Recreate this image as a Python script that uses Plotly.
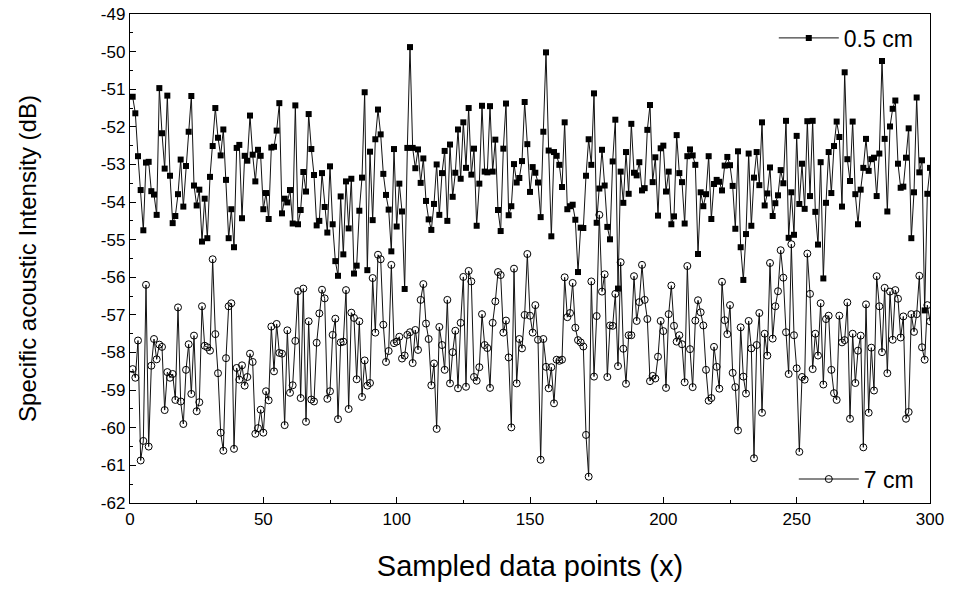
import plotly.graph_objects as go

x_points = list(range(1, 301))

series_05cm = [
-51.20,-51.64,-52.78,-53.68,-54.75,-52.95,-52.93,-53.71,-53.80,-54.34,
-50.97,-52.17,-53.11,-51.17,-53.30,-54.56,-54.37,-53.79,-52.87,-54.12,
-53.04,-52.13,-51.18,-53.56,-54.09,-53.67,-55.05,-53.91,-54.96,-53.33,
-52.51,-51.50,-52.29,-52.76,-52.07,-53.41,-54.96,-54.19,-55.20,-52.56,
-52.48,-54.43,-52.77,-52.90,-51.70,-52.74,-53.45,-52.61,-52.77,-54.19,
-53.76,-54.45,-52.55,-52.53,-52.10,-51.37,-54.30,-53.91,-54.01,-53.68,
-54.57,-51.43,-54.59,-54.21,-53.20,-53.72,-51.66,-52.59,-53.28,-54.62,
-54.50,-53.23,-54.13,-54.81,-53.05,-54.59,-55.57,-55.96,-53.85,-55.39,
-53.45,-54.70,-53.38,-55.90,-55.69,-54.23,-53.35,-51.08,-55.81,-52.66,
-54.48,-52.33,-51.54,-52.20,-53.25,-53.81,-54.20,-55.31,-52.59,-54.65,
-53.51,-54.25,-56.31,-52.56,-49.88,-52.56,-53.10,-52.60,-53.49,-52.84,
-53.97,-54.46,-54.74,-54.05,-53.00,-54.34,-53.23,-52.64,-54.50,-52.47,
-53.86,-53.22,-52.07,-53.38,-51.88,-53.09,-51.50,-53.27,-52.58,-54.63,
-53.51,-51.44,-53.19,-53.21,-51.45,-53.19,-52.34,-54.21,-54.77,-52.58,
-51.38,-54.35,-54.11,-52.99,-53.48,-53.36,-52.91,-51.34,-52.46,-53.73,
-53.07,-53.22,-53.48,-54.40,-52.13,-50.02,-52.63,-54.91,-52.67,-52.77,
-53.01,-53.60,-51.88,-54.19,-54.11,-54.07,-54.47,-55.86,-54.68,-54.69,
-53.30,-52.33,-53.01,-51.11,-54.55,-53.64,-52.61,-53.56,-54.66,-54.99,
-52.92,-51.81,-56.30,-53.19,-54.02,-52.67,-53.78,-51.92,-53.22,-53.29,
-52.94,-53.69,-53.63,-52.08,-51.42,-53.47,-52.81,-54.36,-52.57,-52.50,
-53.72,-53.19,-54.59,-54.38,-52.22,-53.23,-53.47,-54.57,-52.78,-52.60,
-52.76,-53.01,-55.38,-53.74,-54.11,-53.79,-52.78,-54.45,-53.52,-53.41,
-53.46,-53.69,-53.03,-52.80,-53.02,-53.57,-54.71,-52.65,-55.20,-56.07,
-54.85,-52.71,-54.63,-53.35,-52.67,-53.55,-51.88,-54.09,-53.77,-53.08,
-54.37,-54.03,-53.82,-53.15,-53.50,-51.84,-54.95,-53.74,-54.87,-52.24,
-54.05,-52.98,-54.18,-51.85,-53.84,-51.84,-54.26,-55.13,-52.94,-56.03,
-54.02,-52.67,-53.76,-52.51,-51.86,-52.27,-54.12,-50.55,-52.86,-53.44,
-51.86,-53.79,-54.59,-53.67,-53.09,-52.32,-53.17,-52.86,-52.82,-53.84,
-52.71,-50.25,-52.32,-54.25,-51.99,-51.52,-51.30,-52.98,-53.62,-53.59,
-52.82,-52.04,-54.96,-53.74,-51.22,-53.21,-52.89,-56.88,-53.78,-53.09,
]

series_7cm = [
-58.44,-58.67,-57.68,-60.87,-60.35,-56.20,-60.50,-58.35,-57.64,-58.18,
-57.79,-57.85,-59.53,-58.52,-58.67,-58.57,-59.26,-56.80,-59.30,-59.90,
-58.46,-57.78,-59.10,-57.55,-59.56,-59.32,-56.77,-57.82,-57.86,-57.95,
-55.52,-57.51,-58.55,-60.13,-60.61,-58.15,-56.77,-56.69,-60.56,-58.41,
-58.72,-58.34,-58.88,-58.65,-58.03,-58.25,-60.16,-60.01,-59.52,-60.13,
-59.03,-59.27,-57.31,-58.50,-57.24,-58.01,-58.03,-59.93,-57.41,-59.07,
-58.87,-57.69,-56.37,-59.21,-56.30,-59.84,-57.17,-59.25,-59.30,-57.74,
-56.96,-56.33,-56.56,-59.23,-59.03,-57.53,-57.10,-59.77,-57.73,-57.71,
-56.34,-59.50,-56.94,-57.08,-58.71,-57.17,-59.18,-58.21,-58.88,-58.81,
-56.02,-57.47,-55.40,-55.52,-57.26,-58.25,-57.96,-55.67,-57.75,-57.71,
-57.58,-58.16,-58.08,-57.53,-57.46,-58.28,-57.40,-57.93,-56.60,-56.18,
-57.23,-57.64,-58.87,-58.29,-60.03,-57.32,-57.80,-58.46,-56.60,-58.82,
-57.99,-57.42,-58.95,-57.21,-55.99,-58.91,-55.83,-56.11,-58.65,-58.75,
-58.39,-56.98,-57.80,-57.88,-58.94,-57.21,-56.64,-55.86,-55.94,-57.47,
-57.15,-58.13,-59.99,-55.77,-58.82,-57.64,-57.89,-57.00,-55.38,-57.02,
-57.47,-56.74,-57.66,-60.85,-57.64,-58.38,-58.95,-58.39,-59.35,-58.19,
-58.22,-58.19,-56.00,-57.06,-56.95,-56.15,-57.34,-57.67,-57.73,-57.84,
-60.19,-61.30,-56.11,-58.64,-57.03,-54.34,-56.38,-55.92,-58.65,-57.28,
-57.29,-56.44,-58.36,-55.60,-57.90,-58.83,-57.54,-57.54,-55.97,-57.16,
-56.66,-55.67,-56.60,-57.11,-58.76,-58.62,-58.69,-58.11,-57.16,-57.43,
-58.94,-56.98,-56.22,-57.29,-57.71,-57.54,-57.78,-58.79,-55.70,-57.91,
-58.92,-57.15,-56.61,-56.93,-57.28,-58.46,-59.28,-59.21,-57.85,-58.38,
-58.96,-56.12,-57.14,-57.51,-56.74,-58.54,-58.92,-60.07,-57.33,-58.64,
-59.09,-57.16,-57.89,-60.81,-57.80,-56.95,-59.60,-57.50,-58.08,-55.62,
-57.63,-56.77,-56.37,-55.28,-56.01,-57.46,-58.57,-55.12,-57.54,-58.42,
-60.64,-58.65,-58.72,-55.37,-56.44,-58.44,-57.50,-58.08,-56.69,-58.85,
-57.11,-57.02,-58.46,-59.08,-59.26,-57.02,-57.73,-57.67,-56.67,-59.76,
-57.50,-58.81,-57.95,-57.55,-60.52,-56.72,-59.60,-57.87,-59.01,-55.97,
-56.77,-57.99,-56.28,-58.55,-56.38,-57.66,-56.34,-56.57,-57.60,-57.04,
-59.76,-59.58,-56.98,-57.45,-56.98,-55.96,-57.86,-58.19,-56.74,-57.17,
]

x_ticks = [0, 50, 100, 150, 200, 250, 300]
y_ticks = [-49, -50, -51, -52, -53, -54, -55, -56, -57, -58, -59, -60, -61, -62]

FONT = "Liberation Sans, Arial, sans-serif"

fig = go.Figure()
fig.add_trace(go.Scatter(
    x=x_points, y=series_05cm, mode="lines+markers", name="0.5 cm",
    line=dict(color="#111111", width=1),
    marker=dict(symbol="square", size=6, color="black", line=dict(width=0)),
    legend="legend", showlegend=True,
))
fig.add_trace(go.Scatter(
    x=x_points, y=series_7cm, mode="lines+markers", name="7 cm",
    line=dict(color="#111111", width=1),
    marker=dict(symbol="circle-open", size=7, color="black", line=dict(width=1)),
    legend="legend2", showlegend=True,
))

axis_common = dict(
    showgrid=False, zeroline=False, showline=True, linecolor="black", linewidth=1.3,
    mirror=True, ticks="inside", ticklen=6, tickwidth=1, tickcolor="black",
    tickfont=dict(family=FONT, size=17, color="black"), automargin=False,
    ticklabeloverflow="allow",
)

fig.update_layout(
    width=954, height=595, showlegend=True,
    paper_bgcolor="white", plot_bgcolor="white",
    margin=dict(l=130, r=24, t=14, b=92, autoexpand=False),
    font=dict(family=FONT, color="black"),
    xaxis=dict(
        range=[0, 300], tickvals=x_ticks, ticktext=[str(v) for v in x_ticks],
        minor=dict(dtick=25, tick0=0, ticks="inside", ticklen=3, tickcolor="black"),
        title=dict(text="Sampled data points (x)", font=dict(family=FONT, size=29), standoff=28),
        **axis_common,
    ),
    yaxis=dict(
        range=[-62, -49], tickvals=y_ticks, ticktext=[str(v) for v in y_ticks],
        minor=dict(dtick=0.5, tick0=-62, ticks="inside", ticklen=3, tickcolor="black"),
        title=dict(text="Specific acoustic Intensity (dB)", font=dict(family=FONT, size=24), standoff=57),
        **axis_common,
    ),
    legend=dict(
        x=0.986, y=0.995, xanchor="right", yanchor="top",
        bgcolor="rgba(0,0,0,0)", font=dict(family=FONT, size=23),
        itemwidth=60,
    ),
    legend2=dict(
        x=0.986, y=0.005, xanchor="right", yanchor="bottom",
        bgcolor="rgba(0,0,0,0)", font=dict(family=FONT, size=23),
        itemwidth=60,
    ),
)

fig.write_html(
    "out.html",
    config={"displayModeBar": False},
    post_script="document.body.style.margin='0px';",
)
